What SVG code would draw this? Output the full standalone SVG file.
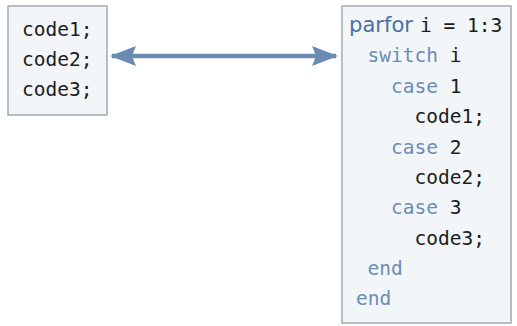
<svg xmlns="http://www.w3.org/2000/svg" width="517" height="326" viewBox="0 0 517 326">
<style>
.box{fill:#f3f6f9;stroke:#a7afb6;stroke-width:1.6}
.code{font-family:"DejaVu Sans Mono","Liberation Mono",monospace;font-size:19.5px;fill:#1c1c1c;white-space:pre}
.kw{fill:#6a8db5}
.pf{font-family:"DejaVu Sans","Liberation Sans",sans-serif;font-size:22px;fill:#4a70a6}
.conn{stroke:#6a8cb3;stroke-width:4.5;fill:none}
</style>
<defs>
<marker id="ah" viewBox="0 0 26 20" refX="24" refY="10" markerWidth="26" markerHeight="20" markerUnits="userSpaceOnUse" orient="auto-start-reverse">
<path d="M0,0 L26,10 L0,20 L4,10 Z" fill="#6a8cb3"/>
</marker>
</defs>
<rect width="517" height="326" fill="#ffffff"/>
<g id="left">
<rect class="box" x="8" y="6" width="99" height="109"/>
<text class="code" x="22" y="36">code1;</text>
<text class="code" x="22" y="66">code2;</text>
<text class="code" x="22" y="96">code3;</text>
</g>
<g id="right">
<rect class="box" x="342" y="6" width="169" height="317"/>
<text class="pf" x="349" y="32" textLength="64" lengthAdjust="spacingAndGlyphs">parfor</text>
<text class="code" x="420" y="32">i = 1:3</text>
<text class="code" x="367.5" y="62"><tspan class="kw">switch</tspan> i</text>
<text class="code" x="391" y="93"><tspan class="kw">case</tspan> 1</text>
<text class="code" x="414.5" y="123">code1;</text>
<text class="code" x="391" y="154"><tspan class="kw">case</tspan> 2</text>
<text class="code" x="414.5" y="184">code2;</text>
<text class="code" x="391" y="214"><tspan class="kw">case</tspan> 3</text>
<text class="code" x="414.5" y="245">code3;</text>
<text class="code kw" x="367.5" y="275">end</text>
<text class="code kw" x="356" y="305">end</text>
</g>
<g id="connectors">
<line class="conn" x1="112" y1="56" x2="336" y2="56" marker-start="url(#ah)" marker-end="url(#ah)"/>
</g>
</svg>
